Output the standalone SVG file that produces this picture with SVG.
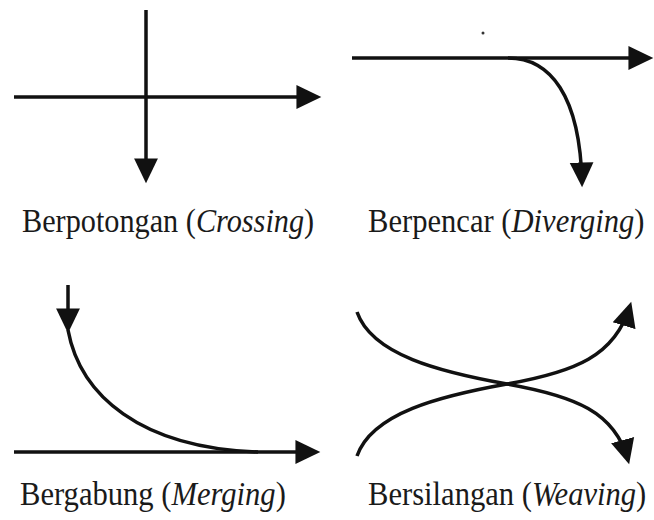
<svg xmlns="http://www.w3.org/2000/svg" width="654" height="520" viewBox="0 0 654 520">
  <style>
    .ln { fill: none; stroke: #111; stroke-width: 3.5; }
    .arr { marker-end: url(#ah); }
    .lbl { font-family: "Liberation Serif", "Times New Roman", serif; font-size: 34px; fill: #1a1a1a; }
    .it { font-style: italic; }
  </style>
  <defs>
    <marker id="ah" markerUnits="userSpaceOnUse" markerWidth="26" markerHeight="26" viewBox="0 -12 24 24" refX="19" refY="0" orient="auto">
      <path d="M0,-11 L23,0 L0,11 Z" fill="#111"/>
    </marker>
  </defs>
  <rect width="654" height="520" fill="#fff"/>

  <g id="connectors">
    <!-- Crossing -->
    <path class="ln arr" d="M14,97 L317,97"/>
    <path class="ln arr" d="M146,10 L146,179"/>
    <!-- Diverging -->
    <path class="ln arr" d="M352,58 L649,58"/>
    <path class="ln arr" d="M508,58 C550,58 580,95 582,183"/>
    <!-- Merging -->
    <path class="ln arr" d="M68,285 L68,329"/>
    <path class="ln" d="M68,330 C80,395 140,448 258,452"/>
    <path class="ln arr" d="M14,452 L316,452"/>
    <!-- Weaving -->
    <path class="ln arr" d="M357,312 C372,355 440,372 507,384 C575,396 615,412 628,460"/>
    <path class="ln arr" d="M357,456 C372,413 440,396 507,384 C575,372 615,356 630,306"/>
  </g>

  <g id="crossing">
    <text class="lbl" transform="translate(22,232) scale(0.89,1)">Berpotongan (<tspan class="it">Crossing</tspan>)</text>
  </g>
  <g id="diverging">
    <circle cx="483" cy="33" r="1.5" fill="#333"/>
    <text class="lbl" transform="translate(368,232) scale(0.9,1)">Berpencar (<tspan class="it">Diverging</tspan>)</text>
  </g>
  <g id="merging">
    <text class="lbl" transform="translate(20,505) scale(0.9,1)">Bergabung (<tspan class="it">Merging</tspan>)</text>
  </g>
  <g id="weaving">
    <text class="lbl" transform="translate(368,505) scale(0.9,1)">Bersilangan (<tspan class="it">Weaving</tspan>)</text>
  </g>
</svg>
